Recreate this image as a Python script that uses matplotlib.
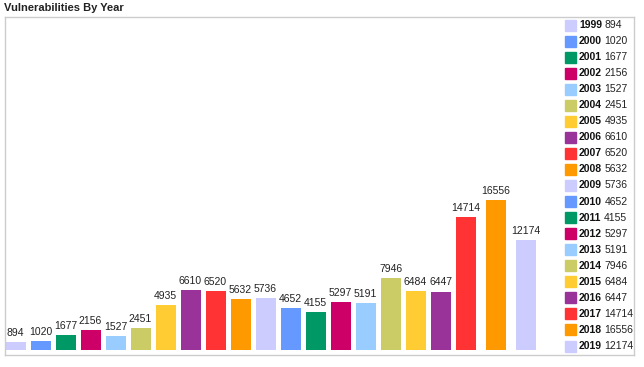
import numpy as np
import matplotlib.pyplot as plt
from matplotlib.patches import Rectangle

plt.rcParams['font.family'] = ['Liberation Sans', 'DejaVu Sans']

years = ['1999', '2000', '2001', '2002', '2003', '2004', '2005', '2006', '2007', '2008', '2009',
         '2010', '2011', '2012', '2013', '2014', '2015', '2016', '2017', '2018', '2019']
counts = [894, 1020, 1677, 2156, 1527, 2451, 4935, 6610, 6520, 5632, 5736,
          4652, 4155, 5297, 5191, 7946, 6484, 6447, 14714, 16556, 12174]
palette = ['#ccccff', '#6699ff', '#009966', '#cc0066', '#99ccff', '#cccc66',
           '#ffcc33', '#993399', '#ff3333', '#ff9900']
colors = [palette[i % len(palette)] for i in range(len(years))]

W, H = 644, 367
fig = plt.figure(figsize=(W / 100, H / 100), dpi=100)

# frame box in pixels (left, top, right, bottom)
fl, ft, fr, fb = 5, 17, 634, 355
ax = fig.add_axes([fl / W, 1 - fb / H, (fr - fl) / W, (fb - ft) / H])
for s in ax.spines.values():
    s.set_color('#cccccc')
    s.set_linewidth(1)
ax.set_xticks([])
ax.set_yticks([])

# bar positions: last three years are spaced a bit wider
xpos = np.arange(len(years), dtype=float)
xpos[18:] = 18 + 1.2 * np.arange(len(years) - 18)
ax.bar(xpos, counts, width=0.8, color=colors)
for x, v in zip(xpos, counts):
    ax.annotate(str(v), (x, v), xytext=(0, 3), textcoords='offset points',
                ha='center', va='bottom', fontsize=7.5, color='#222222')

px_per_unit = 150 / 16556
ax.set_ylim(-(fb - 350) / px_per_unit, (350 - ft) / px_per_unit)
ax.set_xlim(-10.5 / 25, (fr - 15.5) / 25)

# legend drawn by hand inside the frame
for i, (yr, v, c) in enumerate(zip(years, counts, colors)):
    yc = 25 + 16.05 * i
    fig.patches.append(Rectangle((565 / W, 1 - (yc + 5.5) / H), 11 / W, 11 / H,
                                 transform=fig.transFigure, color=c))
    t = fig.text(579 / W, 1 - yc / H, yr, fontsize=7.5, fontweight='bold',
                 va='center', ha='left', color='#111111')
    fig.canvas.draw()
    bb = t.get_window_extent()
    fig.text((bb.x1 + 2.5) / W, 1 - yc / H, str(v), fontsize=7.5,
             va='center', ha='left', color='#222222')

fig.text(4 / W, 1 - 8 / H, 'Vulnerabilities By Year', fontsize=8,
         fontweight='bold', va='center', ha='left', color='#222222')

fig.savefig('out.png', dpi=100)
